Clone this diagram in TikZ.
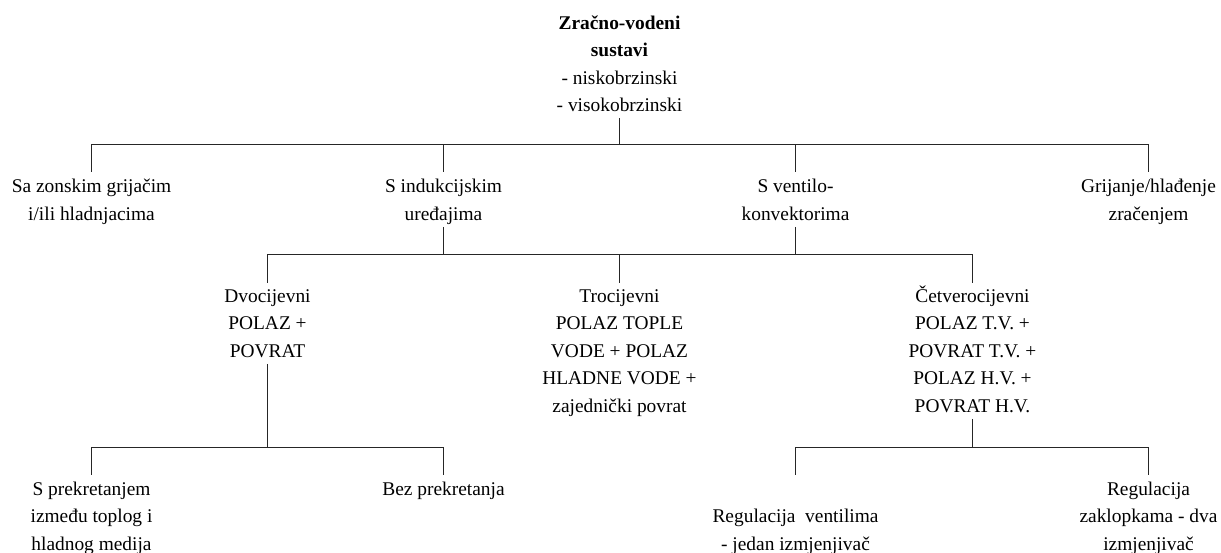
\documentclass[tikz,border=0pt]{standalone}
\usepackage{fontspec}
\setmainfont{Liberation Serif}

\tikzset{
  box/.style={align=center, anchor=north, inner xsep=2pt, inner ysep=2pt,
    font=\fontsize{19.4}{27.5}\selectfont,
    execute at end node={\rule[-4.5pt]{0pt}{4.5pt}}},
  link/.style={line width=1pt, black!85},
  drop/.style={link, shorten >=4.5pt}
}

\begin{document}
\begin{tikzpicture}[x=1pt,y=-1pt]
        \useasboundingbox (0,0) rectangle (1221,553);
        \node[box] (root) at (619.5,13.3) {\textbf{Zračno-vodeni}\\\textbf{sustavi}\\- niskobrzinski\\- visokobrzinski};
        \node[box] (zon)  at (91.5,177)    {Sa zonskim grijačim\\i/ili hladnjacima};
        \node[box] (ind)  at (443.5,177)   {S indukcijskim\\uređajima};
        \node[box] (vent) at (795.5,177)   {S ventilo-\\konvektorima};
        \node[box] (zrac) at (1148.5,177)  {Grijanje/hlađenje\\zračenjem};
        \node[box] (dvo)  at (267.5,287.2) {Dvocijevni\\POLAZ +\\POVRAT};
        \node[box] (tro)  at (619.5,287.2) {Trocijevni\\POLAZ TOPLE\\VODE + POLAZ\\HLADNE VODE +\\zajednički povrat};
        \node[box] (cetv) at (972.5,287.2) {\smash{Č}\vphantom{T}etverocijevni\\POLAZ T.V. +\\POVRAT T.V. +\\POLAZ H.V. +\\POVRAT H.V.};
        \node[box] (prek) at (91.5,479.5)  {S prekretanjem\\između toplog i\\hladnog medija};
        \node[box] (bez)  at (443.5,479.5) {Bez prekretanja};
        \node[box] (regv) at (795.5,479.5) {\vphantom{Rl}\\Regulacija\ \ ventilima\\- jedan izmjenjivač};
        \node[box] (regz) at (1148.5,479.5) {Regulacija\\zaklopkama - dva\\izmjenjivač};
        \coordinate (j1) at (619.5,144.5);
        \coordinate (j2) at (619.5,254.5);
        \coordinate (j3) at (267.5,447.5);
        \coordinate (j4) at (972.5,447.5);
        \draw[link] (root.south) -- (j1);
        \draw[drop] (j1) -| (zon.north);
        \draw[drop] (j1) -| (ind.north);
        \draw[drop] (j1) -| (vent.north);
        \draw[drop] (j1) -| (zrac.north);
        \draw[link] (ind.south) |- (j2);
        \draw[link] (vent.south) |- (j2);
        \draw[drop] (j2) -| (dvo.north);
        \draw[drop] (j2) -- (tro.north);
        \draw[drop] (j2) -| (cetv.north);
        \draw[link] (dvo.south) -- (j3);
        \draw[drop] (j3) -| (prek.north);
        \draw[drop] (j3) -| (bez.north);
        \draw[link] (cetv.south) -- (j4);
        \draw[drop] (j4) -| (regv.north);
        \draw[drop] (j4) -| (regz.north);
\end{tikzpicture}
\end{document}
